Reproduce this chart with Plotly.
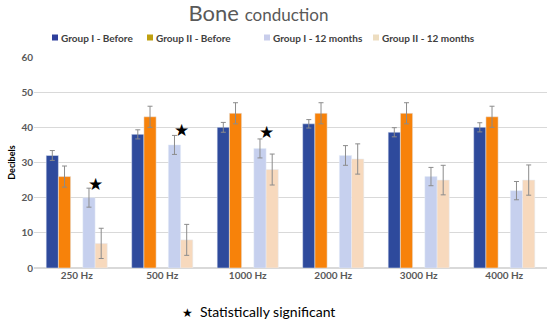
import plotly.graph_objects as go

categories = ["250 Hz", "500 Hz", "1000 Hz", "2000 Hz", "3000 Hz", "4000 Hz"]
g1_before = [32, 38, 40, 41, 38.6, 40]
g1_before_err = [1.4, 1.3, 1.4, 1.2, 1.3, 1.3]
g2_before = [26, 43, 44, 44, 44, 43]
g2_before_err = [3, 3, 3, 3, 3, 3]
g1_12m = [20, 35, 34, 32, 26, 22]
g1_12m_err = [2.7, 2.7, 2.7, 2.8, 2.6, 2.6]
g2_12m = [7, 8, 28, 31, 25, 25]
g2_12m_err = [4.3, 4.4, 4.4, 4.3, 4.2, 4.3]
sig_categories = ["250 Hz", "500 Hz", "1000 Hz"]
sig_y = [24, 39.2, 38.6]

series_names = ["Group I - Before", "Group II - Before", "Group I - 12 months", "Group II - 12 months"]
bar_colors = ["#2E4A9C", "#F7820A", "#C6D0EE", "#F7D9BD"]
legend_colors = ["#2E3F9C", "#BFA010", "#C8CDEB", "#EDDDC0"]

FONT = "Lato, 'Open Sans', sans-serif"
ERR_COLOR = "#8c8c8c"

# plot-area geometry (pixels) used to place the hand-drawn legend
L, T, W, H = 34, 57, 513, 211
def px(x):
    return (x - L) / W
def py(y):
    return (T + H - y) / H

def err(vals):
    return dict(type="data", array=vals, visible=True, color=ERR_COLOR, thickness=1, width=2.5)

fig = go.Figure()
fig.add_trace(go.Bar(x=categories, y=g1_before, name=series_names[0],
                     marker_color=bar_colors[0], error_y=err(g1_before_err)))
fig.add_trace(go.Bar(x=categories, y=g2_before, name=series_names[1],
                     marker_color=bar_colors[1], error_y=err(g2_before_err)))
fig.add_trace(go.Bar(x=categories, y=[None] * len(categories), name="spacer",
                     marker_color="rgba(0,0,0,0)", hoverinfo="skip"))
fig.add_trace(go.Bar(x=categories, y=g1_12m, name=series_names[2],
                     marker_color=bar_colors[2], error_y=err(g1_12m_err)))
fig.add_trace(go.Bar(x=categories, y=g2_12m, name=series_names[3],
                     marker_color=bar_colors[3], error_y=err(g2_12m_err)))

for c, y in zip(sig_categories, sig_y):
    fig.add_annotation(x=c, y=y, text="★", showarrow=False, xshift=19,
                       font=dict(size=17, color="black", family="DejaVu Sans"))

# legend (drawn to match the reference's compact layout)
swatch_x = [52, 147, 264, 373]
for name, col, sx in zip(series_names, legend_colors, swatch_x):
    fig.add_shape(type="rect", xref="paper", yref="paper",
                  x0=px(sx), x1=px(sx + 6), y0=py(40.5), y1=py(34.5),
                  fillcolor=col, line_width=0)
    fig.add_annotation(xref="paper", yref="paper", x=px(sx + 7), y=py(37.5),
                       xanchor="left", yanchor="middle", text=name, showarrow=False,
                       font=dict(size=10, color="#404040", family=FONT, weight="bold"))

fig.add_annotation(xref="paper", yref="paper", x=px(180), y=py(311), xanchor="left", yanchor="middle",
                   text="<span style='font-family:DejaVu Sans;font-size:12px'>★</span>  Statistically significant",
                   showarrow=False, font=dict(size=14, color="black", family=FONT))

fig.update_layout(
    width=550, height=323,
    margin=dict(l=L, r=550 - L - W, t=T, b=323 - T - H, autoexpand=False),
    paper_bgcolor="white", plot_bgcolor="white",
    barmode="group", bargap=0.285, bargroupgap=0,
    title=dict(text="Bone <span style='font-size:17px'>conduction</span>",
               x=0.47, xanchor="center", y=0.958, yanchor="middle",
               font=dict(size=22, color="#595959", family=FONT)),
    font=dict(family=FONT, color="#595959"),
    showlegend=False,
)
fig.update_xaxes(showgrid=False, showline=False, ticks="",
                 tickfont=dict(size=10, color="#595959", family=FONT, weight="bold"))
fig.update_yaxes(range=[0, 60], dtick=10, showgrid=True, gridcolor="#D9D9D9", gridwidth=1,
                 zeroline=True, zerolinecolor="#D9D9D9", showline=False, ticks="",
                 tickfont=dict(size=10, color="#595959", family=FONT, weight="bold"),
                 title=dict(text="Decibels", standoff=4,
                            font=dict(size=9, color="black", family=FONT, weight="bold")))

fig.write_html("out.html", config={"displayModeBar": False},
               post_script="document.body.style.margin='0';")
